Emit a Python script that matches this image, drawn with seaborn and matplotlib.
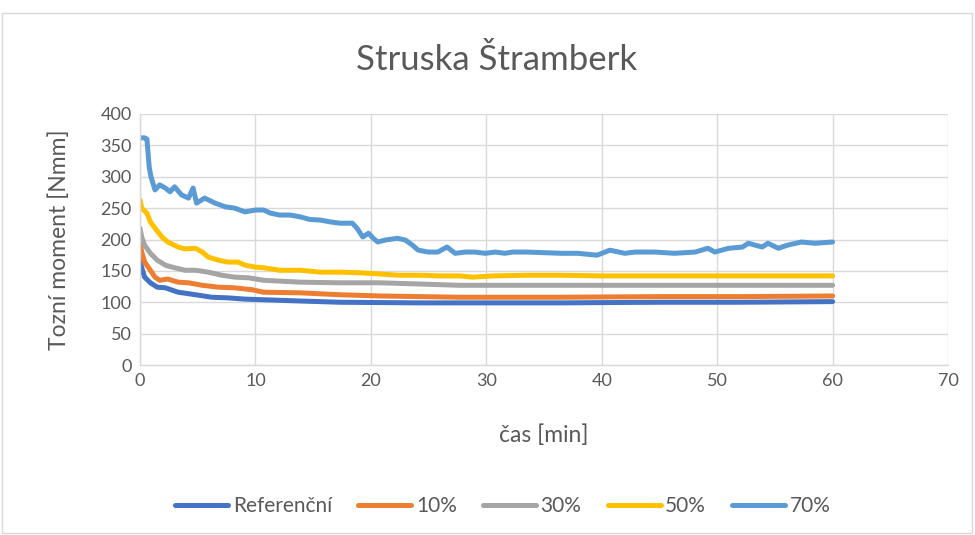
import matplotlib
matplotlib.use("Agg")
import matplotlib.pyplot as plt
import seaborn as sns
import pandas as pd
from matplotlib.patches import Rectangle

# Torque readings [Nmm] over time [min] for each slag content
t_ref = [0, 0.15, 0.4, 0.9, 1.5, 2.2, 3.3, 4.8, 6.2, 7.6, 9.1, 10.7, 13.9, 17.3, 24.3, 36.4, 45, 52, 60]
v_ref = [167, 155, 140, 131, 124, 123, 116, 112, 108, 107, 105, 104, 102, 100, 99, 99, 100, 100, 101]

t_10 = [0, 0.15, 0.4, 0.9, 1.3, 1.7, 2.4, 3.3, 4.2, 5.4, 6.8, 8.2, 9.7, 10.7, 13.9, 17.3, 20.8, 27.7, 36.4, 45, 52, 60]
v_10 = [194, 180, 164, 151, 140, 135, 137, 132, 131, 127, 124, 123, 120, 116, 115, 112, 110, 108, 108, 109, 109, 110]

t_30 = [0, 0.15, 0.4, 0.9, 1.5, 2.2, 3, 3.9, 4.8, 5.9, 7.1, 8.2, 9.4, 10.7, 13.9, 17.3, 20.8, 24.3, 27.7, 36.4, 45, 52, 60]
v_30 = [218, 204, 191, 178, 167, 159, 155, 151, 151, 148, 143, 140, 139, 135, 132, 131, 131, 129, 127, 127, 127, 127, 127]

t_50 = [0, 0.15, 0.6, 0.9, 1.3, 1.9, 2.4, 3.3, 3.9, 4.8, 5.4, 5.9, 6.8, 7.6, 8.5, 9.1, 10, 10.7, 12.1, 13.9,
        15.6, 17.3, 19, 20.8, 22.5, 24.3, 26, 27.7, 28.8, 30.6, 33.5, 36.4, 40, 45, 50, 55, 60]
v_50 = [263, 250, 242, 228, 218, 204, 196, 188, 185, 186, 180, 172, 167, 164, 164, 159, 156, 155, 151, 151,
        148, 148, 147, 145, 143, 143, 142, 142, 140, 142, 143, 143, 142, 142, 142, 142, 142]

t_70 = [0, 0.4, 0.6, 0.8, 0.95, 1.3, 1.7, 2.2, 2.6, 3.0, 3.6, 4.2, 4.6, 4.9, 5.6, 6.5, 7.4, 8.2, 9.1, 10,
        10.7, 11.3, 12.1, 13, 13.9, 14.7, 15.6, 16.5, 17.3, 18.4, 18.8, 19.3, 19.8, 20.2, 20.6, 21.2, 22.3, 23,
        23.6, 24.1, 25, 25.8, 26.6, 27.3, 28.2, 29, 29.9, 30.8, 31.6, 32.3, 33.5, 35, 36.5, 37.9, 39.6, 40.7,
        42, 42.9, 44.6, 46.3, 48.1, 49.2, 49.8, 51, 52.2, 52.7, 53.9, 54.4, 55.3, 56.1, 57.3, 58.5, 60]
v_70 = [362, 362, 360, 315, 300, 279, 287, 282, 276, 284, 271, 266, 282, 258, 266, 258, 252, 250, 244, 247,
        247, 242, 239, 239, 236, 232, 231, 228, 226, 226, 218, 204, 210, 202, 196, 199, 202, 199,
        191, 183, 180, 180, 188, 178, 180, 180, 178, 180, 178, 180, 180, 179, 178, 178, 175, 183,
        178, 180, 180, 178, 180, 186, 180, 186, 188, 194, 188, 194, 186, 191, 196, 194, 196]

series_names = ["Referenční", "10%", "30%", "50%", "70%"]
series_t = [t_ref, t_10, t_30, t_50, t_70]
series_v = [v_ref, v_10, v_30, v_50, v_70]
colors = ["#4472C4", "#ED7D31", "#A5A5A5", "#FFC000", "#5B9BD5"]

x_ticks = [0, 10, 20, 30, 40, 50, 60, 70]
y_ticks = [0, 50, 100, 150, 200, 250, 300, 350, 400]

frames = [pd.DataFrame({"cas": t, "moment": v, "serie": name})
          for name, t, v in zip(series_names, series_t, series_v)]
df = pd.concat(frames, ignore_index=True)

sns.set_theme(style="white")
plt.rcParams["font.family"] = ["Lato", "DejaVu Sans"]
text_color = "#595959"

fig = plt.figure(figsize=(9.75, 5.35), dpi=100)
ax = fig.add_axes([140 / 975, 1 - 365 / 535, 808 / 975, 251 / 535])

sns.lineplot(data=df, x="cas", y="moment", hue="serie", hue_order=series_names,
             palette=colors, estimator=None, sort=True, linewidth=3.6, ax=ax, legend=False)

ax.set_xlim(0, 70)
ax.set_ylim(0, 400)
ax.set_xticks(x_ticks)
ax.set_yticks(y_ticks)
ax.tick_params(axis="both", labelsize=13, colors=text_color, length=0, pad=6)
ax.grid(True, color="#D9D9D9", linewidth=1.0)
ax.set_axisbelow(True)
for side in ["top", "right"]:
    ax.spines[side].set_visible(False)
for side in ["left", "bottom"]:
    ax.spines[side].set_color("#D9D9D9")
    ax.spines[side].set_linewidth(1.0)

ax.set_xlabel("čas [min]", fontsize=16.5, color=text_color)
ax.set_ylabel("Tozní moment [Nmm]", fontsize=16.5, color=text_color)
ax.xaxis.set_label_coords(0.5, -0.235)
ax.yaxis.set_label_coords(-0.087, 0.5)

fig.text(497 / 975, 1 - 60 / 535, "Struska Štramberk", ha="center", va="center",
         fontsize=25, color=text_color)

handles = [plt.Line2D([], [], color=c, linewidth=3.6) for c in colors]
fig.legend(handles, series_names, loc="center", bbox_to_anchor=(503 / 975, 1 - 506 / 535),
           ncol=5, frameon=False, fontsize=15, handlelength=2.55, handletextpad=0.22,
           columnspacing=1.25, labelcolor=text_color)

# chart area border
fig.patches.append(Rectangle((2 / 975, 2 / 535), 970 / 975, 520 / 535, transform=fig.transFigure,
                             fill=False, edgecolor="#D9D9D9", linewidth=1.0))

fig.savefig("out.png", dpi=100)
